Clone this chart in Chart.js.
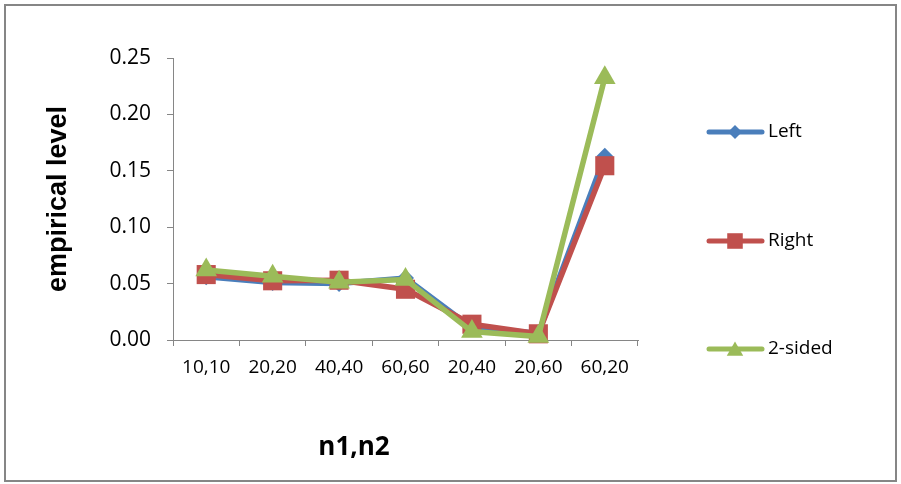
<!DOCTYPE html>
<html lang="en">
<head>
  <meta charset="UTF-8" />
  <title>Empirical level by n1,n2</title>
  <script src="https://cdn.jsdelivr.net/npm/chart.js"></script>
  <style>
    body {
      margin: 0;
      background: #fff;
    }
    canvas {
      display: block;
    }
  </style>
</head>
<body>
  <canvas id="levelChart" width="901" height="484"></canvas>
  <script>
    // data
    const categories = ['10,10', '20,20', '40,40', '60,60', '20,40', '20,60', '60,20'];
    const seriesNames = ['Left', 'Right', '2-sided'];
    const leftValues = [0.056, 0.051, 0.050, 0.055, 0.011, 0.006, 0.163];
    const rightValues = [0.058, 0.0525, 0.053, 0.045, 0.014, 0.0055, 0.1545];
    const twoSidedValues = [0.062, 0.0565, 0.0513, 0.0537, 0.0075, 0.003, 0.2325];
    const yTicks = [0, 0.05, 0.10, 0.15, 0.20, 0.25];

    const axisGrey = '#868686';
    const colors = ['#4A7EBB', '#C0504D', '#9BBB59'];
    const styles = ['rectRot', 'rect', 'triangle'];
    const plotRadius = [8.5, 13.5, 12.5];
    const legendRadius = [7, 11, 9.5];

    const frame = {
      id: 'frame',
      beforeDraw(chart) {
        const ctx = chart.ctx;
        ctx.save();
        ctx.fillStyle = '#fff';
        ctx.fillRect(0, 0, chart.width, chart.height);
        ctx.strokeStyle = axisGrey;
        ctx.lineWidth = 2;
        ctx.strokeRect(5, 5, 891, 476);
        ctx.restore();
      },
      afterDraw(chart) {
        const ctx = chart.ctx;
        ctx.save();
        // x axis title
        ctx.fillStyle = '#000';
        ctx.font = 'bold 26px "Open Sans"';
        ctx.textAlign = 'center';
        ctx.textBaseline = 'middle';
        ctx.fillText('n1,n2', 354, 448);

        // legend on the right
        const rows = [132, 241, 349];
        chart.data.datasets.forEach((ds, i) => {
          const y = rows[i];
          ctx.strokeStyle = ds.borderColor;
          ctx.lineWidth = 5;
          ctx.lineCap = 'round';
          ctx.beginPath();
          ctx.moveTo(709, y);
          ctx.lineTo(762, y);
          ctx.stroke();
          ctx.fillStyle = ds.borderColor;
          Chart.helpers.drawPoint(ctx, {
            pointStyle: styles[i],
            radius: legendRadius[i],
            rotation: 0,
            borderWidth: 0
          }, 735, i === 2 ? y + 2 : y);
          ctx.fillStyle = '#000';
          ctx.font = '19px "Open Sans"';
          ctx.textAlign = 'left';
          ctx.fillText(ds.label, 768, y);
        });
        ctx.restore();
      }
    };

    function makeSeries(i, values) {
      return {
        label: seriesNames[i],
        data: values,
        borderColor: colors[i],
        backgroundColor: colors[i],
        borderWidth: 5.5,
        pointStyle: styles[i],
        pointRadius: plotRadius[i],
        pointBorderWidth: 0,
        pointBackgroundColor: colors[i],
        tension: 0,
        clip: false,
        order: 3 - i
      };
    }

    new Chart(document.getElementById('levelChart'), {
      type: 'line',
      data: {
        labels: categories,
        datasets: [
          makeSeries(0, leftValues),
          makeSeries(1, rightValues),
          makeSeries(2, twoSidedValues)
        ]
      },
      options: {
        responsive: false,
        devicePixelRatio: 1,
        animation: false,
        layout: {
          padding: { left: 38, top: 58, right: 263, bottom: 0 }
        },
        plugins: {
          legend: { display: false },
          tooltip: { enabled: false }
        },
        scales: {
          x: {
            type: 'category',
            offset: true,
            grid: {
              offset: true,
              drawOnChartArea: false,
              tickLength: 6,
              color: axisGrey
            },
            border: { display: true, color: axisGrey, width: 1 },
            ticks: {
              color: '#000',
              font: { family: 'Open Sans', size: 19 },
              padding: 10,
              maxRotation: 0
            },
            afterFit(scale) { scale.height = 144; }
          },
          y: {
            min: 0,
            max: 0.25,
            afterBuildTicks(scale) {
              scale.ticks = yTicks.map(v => ({ value: v }));
            },
            grid: {
              drawOnChartArea: false,
              tickLength: 6,
              color: axisGrey
            },
            border: { display: true, color: axisGrey, width: 1 },
            ticks: {
              color: '#000',
              font: { family: 'Open Sans', size: 21 },
              padding: 16,
              callback: v => Number(v).toFixed(2)
            },
            title: {
              display: true,
              text: 'empirical level',
              color: '#000',
              font: { family: 'Liberation Sans', weight: 'bold', size: 27 },
              padding: { top: 4, bottom: 4 }
            },
            afterFit(scale) { scale.width = 135; }
          }
        }
      },
      plugins: [frame]
    });
  </script>
</body>
</html>
